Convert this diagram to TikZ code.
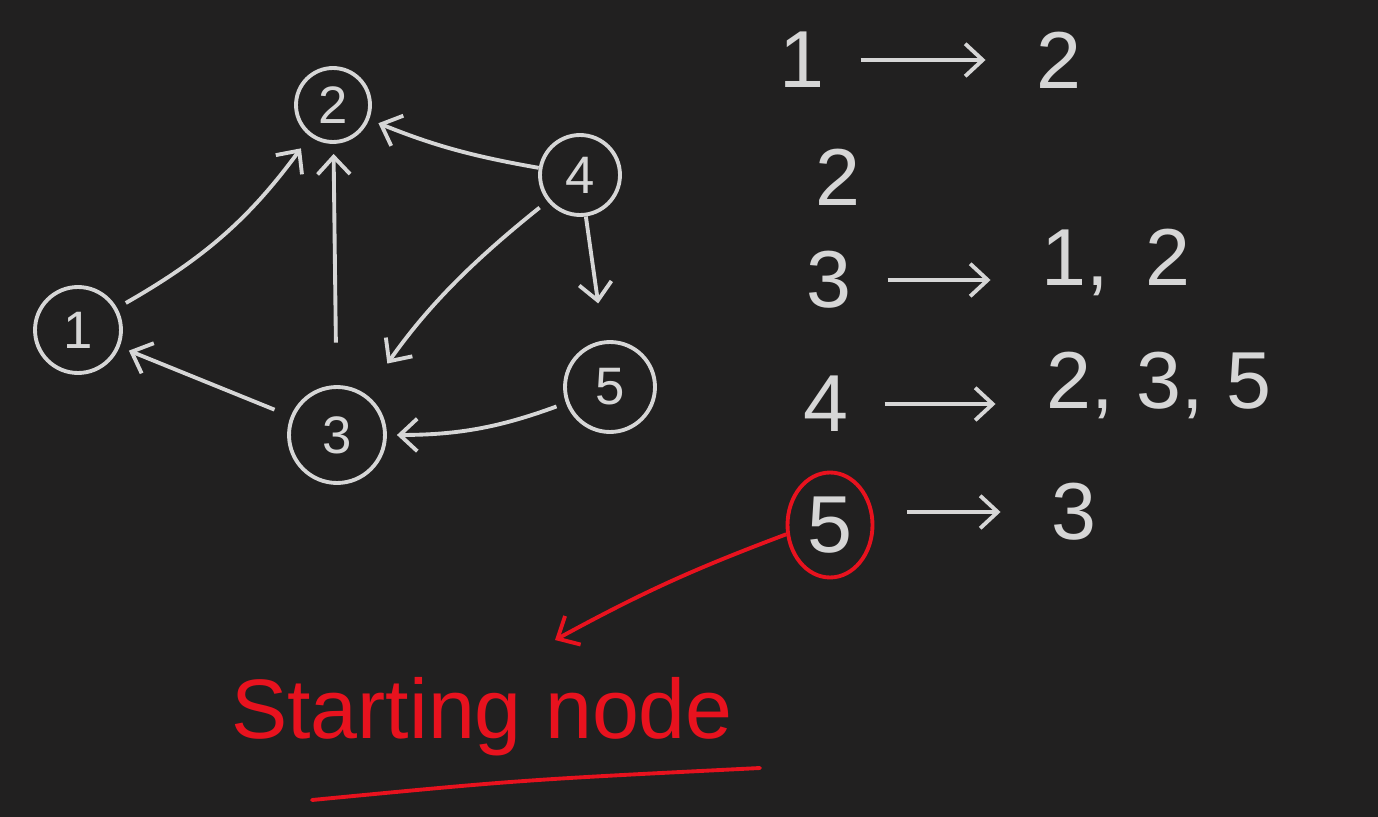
\documentclass[tikz,border=0pt]{standalone}
\usepackage{fontspec}
\setmainfont{Liberation Sans}
\usetikzlibrary{arrows.meta,positioning,shapes.geometric}
\definecolor{boardbg}{RGB}{33,32,32}
\definecolor{chalk}{RGB}{214,214,214}
\definecolor{markred}{RGB}{232,18,30}

\begin{document}
\begin{tikzpicture}[x=0.02cm, y=-0.02cm,
  vertex/.style={draw=chalk, line width=2.2pt, circle, inner sep=0pt, text=chalk, font=\fontsize{30}{36}\selectfont},
  edge/.style={chalk, line width=2.2pt, -{Straight Barb[length=3.5mm,width=6.5mm,line width=2.2pt]}, shorten <=0.2cm, shorten >=0.2cm},
  entry/.style={text=chalk, font=\fontsize{46}{54}\selectfont, inner sep=2pt},
  listarrow/.style={chalk, line width=2.2pt, -{Straight Barb[length=3.5mm,width=6.5mm,line width=2.2pt]}, shorten <=0.65cm, shorten >=0.95cm},
  redmark/.style={markred, line width=2.2pt}]
\useasboundingbox (0,0) rectangle (1378,817);
\fill[boardbg] (0,0) rectangle (1378,817);

% graph
\node[vertex, minimum size=1.72cm] (n1) at (78,330) {1};
\node[vertex, minimum size=1.48cm] (n2) at (333,105) {2};
\node[vertex, minimum size=1.92cm] (n3) at (337,435) {3};
\node[vertex, minimum size=1.6cm] (n4) at (580,175) {4};
\node[vertex, minimum size=1.8cm] (n5) at (610,387) {5};

\draw[edge, bend right=12, shorten >=0.3cm] (n1) to (n2);
\draw[edge, shorten <=0.85cm] (n3) to (n2);
\draw[edge, shorten <=0pt, bend left=6] (n4) to (n2);
\draw[edge, shorten >=0.75cm, bend right=8] (n4) to (n3);
\draw[edge, shorten <=0pt, shorten >=0.75cm] (n4) to (n5);
\draw[edge, shorten <=0.35cm] (n3) to (n1);
\draw[edge, bend left=10] (n5) to (n3);

% adjacency list
\node[entry, anchor=east] (l1) at (828,60) {1};
\node[entry, anchor=west] (r1) at (1033,60) {2};
\node[entry] (l2) at (838,177) {2};
\node[entry, anchor=east] (l3) at (855,280) {3};
\node[entry, anchor=west] (r3) at (1038,262) {1,\, 2};
\node[entry, anchor=east] (l4) at (852,404) {4};
\node[entry, anchor=west] (r4) at (1043,385) {2, 3, 5};
\node[entry, draw=markred, line width=2.2pt, ellipse, minimum width=1.7cm, minimum height=2.1cm, inner sep=0pt] (l5) at (830,525) {5};
\node[entry, anchor=west] (r5) at (1048,512) {3};

\draw[listarrow] (l1.east) -- (l1.east -| r1.west);
\draw[listarrow] (l3.east) -- (l3.east -| r3.west);
\draw[listarrow] (l4.east) -- (l4.east -| r4.west);
\draw[listarrow] (l5.east |- r5) -- (r5.west);

% starting node
\node[text=markred, font=\fontsize{48}{56}\selectfont, anchor=base] (startlabel) at (482,738) {Starting node};
\coordinate (tip) at (555,640);
\draw[redmark, -{Straight Barb[length=3.5mm,width=6.5mm,line width=2.2pt]}, bend right=4] (l5.192) to (tip);
\draw[redmark, line cap=round] (312,800) .. controls (520,780) .. (760,768);
\end{tikzpicture}
\end{document}
